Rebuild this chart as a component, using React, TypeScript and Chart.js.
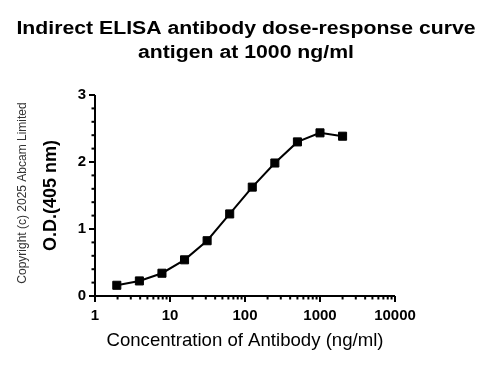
import React, { useEffect, useRef } from 'react';
import { Chart, registerables } from 'chart.js';

Chart.register(...registerables);

const concentrations = [1.953, 3.906, 7.8125, 15.625, 31.25, 62.5, 125, 250, 500, 1000, 2000];
const odValues = [0.16, 0.225, 0.34, 0.54, 0.825, 1.225, 1.625, 1.985, 2.3, 2.435, 2.385];
const xTickLabels = [1, 10, 100, 1000, 10000];
const yTickLabels = [0, 1, 2, 3];
const titleLines = ['Indirect ELISA antibody dose-response curve', 'antigen at 1000 ng/ml'];
const xAxisTitle = 'Concentration of Antibody (ng/ml)';
const yAxisTitle = 'O.D.(405 nm)';
const copyrightText = 'Copyright (c) 2025 Abcam Limited';

const FAMILY = '"Liberation Sans", Arial, Helvetica, sans-serif';

const decorPlugin = {
  id: 'decor',
  beforeDatasetsDraw(chart: any) {
    const { ctx, chartArea, scales } = chart;
    const xs = scales.x;
    const ys = scales.y;
    const left = chartArea.left;
    const bottom = chartArea.bottom;
    ctx.save();
    ctx.strokeStyle = '#000';
    ctx.lineWidth = 2;
    ctx.beginPath();
    ctx.moveTo(left, chartArea.top);
    ctx.lineTo(left, bottom + 1);
    ctx.moveTo(left - 1, bottom);
    ctx.lineTo(chartArea.right, bottom);
    ctx.stroke();

    // y ticks (major at integers, minor every 0.2)
    const yMax = yTickLabels[yTickLabels.length - 1];
    for (let i = 0; i <= yMax * 5; i++) {
      const v = i / 5;
      const y = ys.getPixelForValue(v);
      const major = i % 5 === 0;
      const len = major ? 6 : 3.5;
      ctx.beginPath();
      ctx.moveTo(left - len, y);
      ctx.lineTo(left, y);
      ctx.stroke();
    }
    // x ticks (log minor ticks)
    const maxExp = Math.log10(xTickLabels[xTickLabels.length - 1]);
    for (let d = 0; d <= maxExp; d++) {
      for (let m = 1; m <= 9; m++) {
        if (d === maxExp && m > 1) break;
        const v = m * Math.pow(10, d);
        const x = xs.getPixelForValue(v);
        const len = m === 1 ? 6 : 3.5;
        ctx.beginPath();
        ctx.moveTo(x, bottom);
        ctx.lineTo(x, bottom + len);
        ctx.stroke();
      }
    }
    ctx.restore();
  },
  afterDraw(chart: any) {
    const { ctx } = chart;
    ctx.save();
    ctx.fillStyle = '#000';
    ctx.font = `bold 18px ${FAMILY}`;
    ctx.textAlign = 'center';
    ctx.textBaseline = 'alphabetic';
    const baselines = [34, 58];
    titleLines.forEach((line, i) => {
      ctx.save();
      ctx.translate(246, baselines[i]);
      ctx.scale(1.18, 1);
      ctx.fillText(line, 0, 0);
      ctx.restore();
    });
    ctx.save();
    ctx.font = `12px ${FAMILY}`;
    ctx.fillStyle = '#333';
    ctx.translate(23, 193);
    ctx.rotate(-Math.PI / 2);
    ctx.textBaseline = 'middle';
    ctx.textAlign = 'center';
    ctx.fillText(copyrightText, 0, 0);
    ctx.restore();
    ctx.restore();
  },
};

export default function App() {
  const canvasRef = useRef<HTMLCanvasElement | null>(null);

  useEffect(() => {
    if (!canvasRef.current) return;
    const isPow10 = (v: number) => Math.abs(Math.log10(v) - Math.round(Math.log10(v))) < 1e-9;
    const chart = new Chart(canvasRef.current, {
      type: 'line',
      data: {
        datasets: [
          {
            data: concentrations.map((x, i) => ({ x, y: odValues[i] })),
            borderColor: '#000',
            backgroundColor: '#000',
            borderWidth: 2,
            pointStyle: 'rect',
            pointRadius: 5.7,
            pointBorderWidth: 1,
            pointBackgroundColor: '#000',
            pointBorderColor: '#000',
            tension: 0,
          },
        ],
      },
      options: {
        animation: false,
        responsive: false,
        layout: { padding: { top: 95, right: 94, left: 0, bottom: 0 } },
        plugins: {
          legend: { display: false },
          title: { display: false },
          tooltip: { enabled: false },
        },
        scales: {
          x: {
            type: 'logarithmic',
            min: xTickLabels[0],
            max: xTickLabels[xTickLabels.length - 1],
            grid: { display: false },
            border: { display: false },
            ticks: {
              autoSkip: false,
              maxRotation: 0,
              padding: 3,
              color: '#000',
              font: { family: FAMILY, size: 15, weight: 'bold' },
              callback: (v: any) => (isPow10(Number(v)) && xTickLabels.includes(Number(v)) ? String(v) : ''),
            },
            title: {
              display: true,
              text: xAxisTitle,
              color: '#000',
              font: { family: FAMILY, size: 18.6 },
              padding: { top: 0, bottom: 13.8 },
            },
            afterFit: (s: any) => {
              s.height = 70;
            },
          },
          y: {
            min: yTickLabels[0],
            max: yTickLabels[yTickLabels.length - 1],
            grid: { display: false },
            border: { display: false },
            ticks: {
              stepSize: 1,
              padding: 1,
              color: '#000',
              font: { family: FAMILY, size: 15, weight: 'bold' },
              callback: (v: any) => (yTickLabels.includes(Number(v)) ? String(v) : ''),
            },
            title: {
              display: true,
              text: yAxisTitle,
              color: '#000',
              font: { family: FAMILY, size: 18, weight: 'bold' },
              padding: { top: 40.7, bottom: 0 },
            },
            afterFit: (s: any) => {
              s.width = 95;
            },
          },
        },
      } as any,
      plugins: [decorPlugin],
    });
    return () => chart.destroy();
  }, []);

  return (
    <div style={{ position: 'absolute', left: 0, top: 0, width: 489, height: 366, background: '#fff' }}>
      <canvas ref={canvasRef} width={489} height={366} style={{ display: 'block' }} />
    </div>
  );
}
